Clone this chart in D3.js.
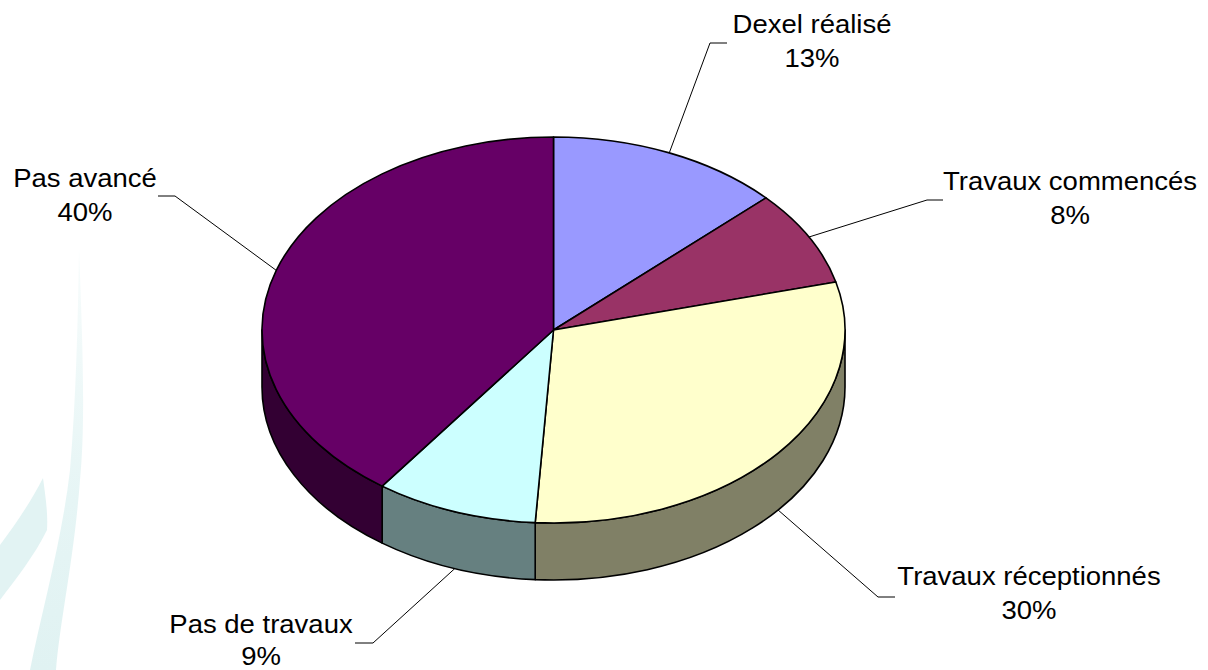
<!DOCTYPE html>
<html>
<head>
<meta charset="utf-8">
<script src="https://cdn.jsdelivr.net/npm/d3@7"></script>
<style>
  body { margin: 0; background: #fff; }
  svg { display: block; }
  .lbl { font-family: "Liberation Sans", Arial, sans-serif; font-size: 25px; fill: #000; }
</style>
</head>
<body>
<div class="chart"></div>
<script>
// categories and values (percent), clockwise from 12 o'clock
var categories = ["Dexel réalisé", "Travaux commencés", "Travaux réceptionnés", "Pas de travaux", "Pas avancé"];
var values = [13, 8, 30, 9, 40];
var colors = ["#9999ff", "#993366", "#ffffcc", "#ccffff", "#660066"];

// where the labels sit (center x, first baseline) and the leader elbow / end
var labelPos = [
    { x: 812, y: 33, ex: 710, ey: 43, hx: 727 },
    { x: 1070, y: 190, ex: 927, ey: 200, hx: 943 },
    { x: 1029, y: 585, ex: 878, ey: 597, hx: 895 },
    { x: 261, y: 633, ex: 373, ey: 643, hx: 355 },
    { x: 85, y: 187, ex: 175, ey: 196, hx: 158 }
];

function chart() {
    var width = 1208, height = 670;
    var cx = 553.5, cy = 330, rx = 291.5, ry = 193, depth = 57;

    var svg = d3.select(".chart").append("svg")
        .attr("width", width)
        .attr("height", height);

    // faint watermark swoosh in the background
    var wm = svg.append("defs").append("linearGradient")
        .attr("id", "wm").attr("x1", 0).attr("y1", 0).attr("x2", 0).attr("y2", 1);
    wm.append("stop").attr("offset", "0%").attr("stop-color", "#f8fcfc");
    wm.append("stop").attr("offset", "60%").attr("stop-color", "#e6f5f5");
    wm.append("stop").attr("offset", "100%").attr("stop-color", "#e0f2f2");
    svg.append("path")
        .attr("d", "M79,248 C82,330 86,420 80,480 C74,560 60,620 56,670 L30,670 C42,610 62,540 70,470 C76,400 78,320 79,248 Z")
        .attr("fill", "url(#wm)");
    svg.append("path")
        .attr("d", "M43,478 C46,500 48,515 47,530 C35,555 15,580 0,600 L0,545 C15,525 32,500 43,478 Z")
        .attr("fill", "#e2f3f3");

    var pie = d3.pie().sort(null).value(function (d) { return d; });
    var arcs = pie(values);

    // point on the top (or bottom) ellipse for an angle measured clockwise from 12 o'clock
    var px = function (a) { return cx + rx * Math.sin(a); };
    var py = function (a, dz) { return cy - ry * Math.cos(a) + (dz || 0); };

    // side walls are the top colour at half brightness
    var half = function (c) {
        var r = d3.rgb(c);
        return d3.rgb(r.r / 2, r.g / 2, r.b / 2).toString();
    };

    // side walls, only the front half (angles between 90 and 270 degrees) is visible
    var lo = Math.PI / 2, hi = 3 * Math.PI / 2;
    arcs.forEach(function (d, i) {
        var a0 = Math.max(d.startAngle, lo), a1 = Math.min(d.endAngle, hi);
        if (a1 <= a0) return;
        var large = (a1 - a0) > Math.PI ? 1 : 0;
        var p = "M" + px(a0) + "," + py(a0)
            + "A" + rx + "," + ry + " 0 " + large + " 1 " + px(a1) + "," + py(a1)
            + "L" + px(a1) + "," + py(a1, depth)
            + "A" + rx + "," + ry + " 0 " + large + " 0 " + px(a0) + "," + py(a0, depth)
            + "Z";
        svg.append("path")
            .attr("class", "side")
            .attr("d", p)
            .attr("fill", half(colors[i]))
            .attr("stroke", "#000")
            .attr("stroke-width", 1.6)
            .attr("stroke-linejoin", "round");
    });

    // top faces
    svg.selectAll(".slice")
        .data(arcs)
        .enter().append("path")
        .attr("class", "slice")
        .attr("d", function (d) {
            var large = (d.endAngle - d.startAngle) > Math.PI ? 1 : 0;
            return "M" + cx + "," + cy
                + "L" + px(d.startAngle) + "," + py(d.startAngle)
                + "A" + rx + "," + ry + " 0 " + large + " 1 " + px(d.endAngle) + "," + py(d.endAngle)
                + "Z";
        })
        .attr("fill", function (d, i) { return colors[i]; })
        .attr("stroke", "#000")
        .attr("stroke-width", 1.6)
        .attr("stroke-linejoin", "round");

    // leader lines, anchored at slice middle (bottom rim for front slices)
    arcs.forEach(function (d, i) {
        var m = (d.startAngle + d.endAngle) / 2;
        var front = m > lo && m < hi;
        var ax = px(m), ay = py(m, front ? depth : 0);
        var L = labelPos[i];
        svg.append("polyline")
            .attr("points", [[ax, ay], [L.ex, L.ey], [L.hx, L.ey]].map(function (p) { return p.join(","); }).join(" "))
            .attr("fill", "none")
            .attr("stroke", "#000")
            .attr("stroke-width", 1);
    });

    // labels
    var labels = svg.selectAll(".label")
        .data(arcs)
        .enter().append("g")
        .attr("class", "label")
        .attr("transform", function (d, i) {
            return "translate(" + labelPos[i].x + "," + labelPos[i].y + ") scale(1.1,1)";
        });
    labels.append("text")
        .attr("class", "lbl")
        .attr("text-anchor", "middle")
        .text(function (d, i) { return categories[i]; });
    labels.append("text")
        .attr("class", "lbl")
        .attr("text-anchor", "middle")
        .attr("y", function (d, i) { return i === 3 ? 32 : 34; })
        .text(function (d) { return Math.round(d.value) + "%"; });
}
chart();
</script>
</body>
</html>
